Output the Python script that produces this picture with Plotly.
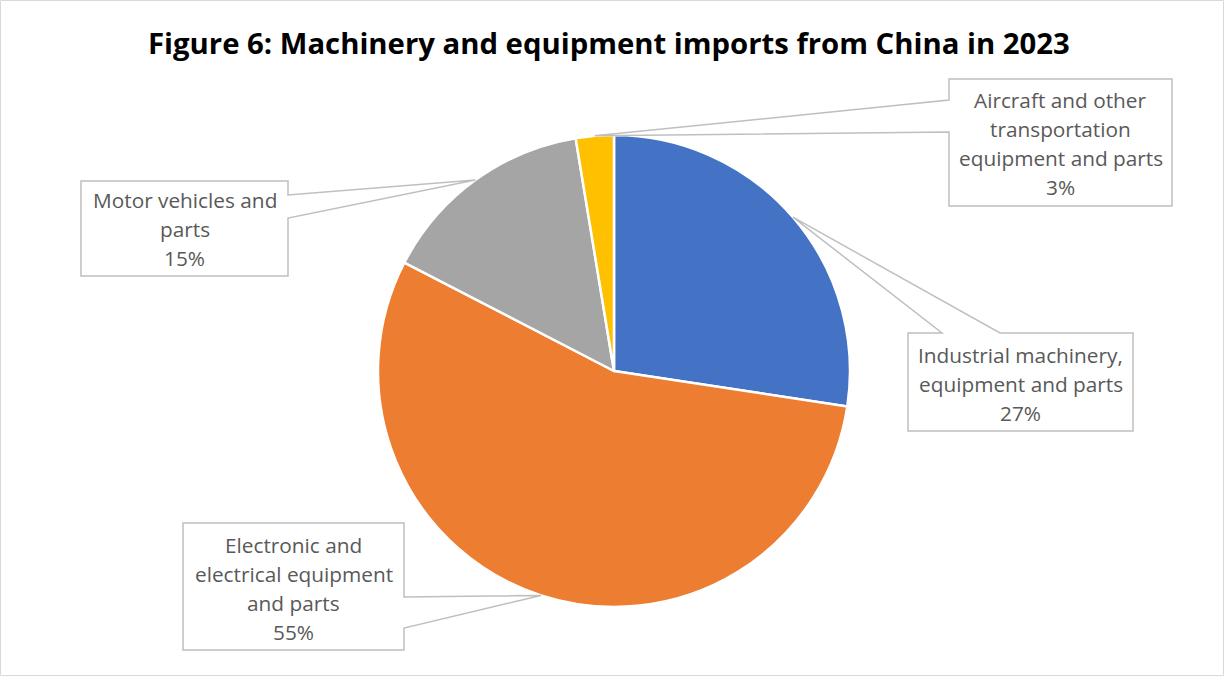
import math
import plotly.graph_objects as go

# ---- data ----
categories = [
    "Industrial machinery, equipment and parts",
    "Electronic and electrical equipment and parts",
    "Motor vehicles and parts",
    "Aircraft and other transportation equipment and parts",
]
values = [27.4, 55.2, 14.8, 2.6]
colors = ["#4472C4", "#ED7D31", "#A5A5A5", "#FFC000"]
label_lines = [
    ["Industrial machinery,", "equipment and parts"],
    ["Electronic and", "electrical equipment", "and parts"],
    ["Motor vehicles and", "parts"],
    ["Aircraft and other", "transportation", "equipment and parts"],
]
title = "Figure 6: Machinery and equipment imports from China in 2023"

# ---- layout constants (pixels) ----
W, H = 1225, 677
CX, CY, R = 614, 371, 236
boxes = [
    dict(box=(908, 333, 1133, 431), side="top", base=(942, 1000), y0=355),
    dict(box=(183, 523, 404, 650), side="right", base=(597, 628), y0=545),
    dict(box=(81, 181, 288, 276), side="right", base=(195, 218), y0=200),
    dict(box=(949, 79, 1172, 206), side="left", base=(100, 132), y0=100),
]
LINE_H = 29.0
LABEL_FONT = dict(family="Open Sans", size=20.8, color="#595959")
TITLE_FONT = dict(family="Open Sans", size=29.3, color="#000000")


def px(x):
    return x / W


def py(y):
    return 1 - y / H


total = sum(values)
fig = go.Figure()
fig.add_trace(go.Pie(
    labels=categories,
    values=values,
    sort=False,
    direction="clockwise",
    rotation=0,
    textinfo="none",
    hoverinfo="label+percent",
    marker=dict(colors=colors, line=dict(color="white", width=2.5)),
    domain=dict(x=[px(CX - R), px(CX + R)], y=[py(CY + R), py(CY - R)]),
    showlegend=False,
))

shapes = []
annotations = []
shapes.append(dict(type="rect", xref="paper", yref="paper", x0=px(0.5), y0=py(0.5), x1=px(W - 1.5), y1=py(H - 1.5),
                   line=dict(color="#D9D9D9", width=1), fillcolor="rgba(0,0,0,0)", layer="below"))

cum = 0.0
for i, v in enumerate(values):
    mid = (cum + v / 2) / total * 2 * math.pi
    cum += v
    ax = CX + R * math.sin(mid)
    ay = CY - R * math.cos(mid)
    b = boxes[i]
    x0, y0, x1, y1 = b["box"]
    b1, b2 = b["base"]
    if b["side"] == "top":
        pts = [(x0, y0), (b1, y0), (ax, ay), (b2, y0), (x1, y0), (x1, y1), (x0, y1)]
    elif b["side"] == "right":
        pts = [(x0, y0), (x1, y0), (x1, b1), (ax, ay), (x1, b2), (x1, y1), (x0, y1)]
    else:
        pts = [(x0, y0), (x1, y0), (x1, y1), (x0, y1), (x0, b2), (ax, ay), (x0, b1)]
    path = "M " + " L ".join(f"{px(x):.5f},{py(y):.5f}" for x, y in pts) + " Z"
    shapes.append(dict(type="path", xref="paper", yref="paper", path=path,
                       line=dict(color="#BFBFBF", width=1.5), fillcolor="white", layer="above"))
    pct = f"{int(v / total * 100 + 0.5)}%"
    lines = label_lines[i] + [pct]
    xc = (x0 + x1) / 2
    for k, t in enumerate(lines):
        annotations.append(dict(x=px(xc), y=py(b["y0"] + k * LINE_H), xref="paper", yref="paper",
                                text=t, showarrow=False, xanchor="center", yanchor="middle",
                                font=LABEL_FONT))

annotations.append(dict(x=px(609), y=py(43), xref="paper", yref="paper", text=f"<b>{title}</b>",
                        showarrow=False, xanchor="center", yanchor="middle", font=TITLE_FONT))

fig.update_layout(
    width=W, height=H,
    margin=dict(l=0, r=0, t=0, b=0),
    paper_bgcolor="white",
    plot_bgcolor="white",
    shapes=shapes,
    annotations=annotations,
)
fig.write_html("out.html", config={"displayModeBar": False},
               post_script="document.body.style.margin='0';document.body.style.overflow='hidden';")
